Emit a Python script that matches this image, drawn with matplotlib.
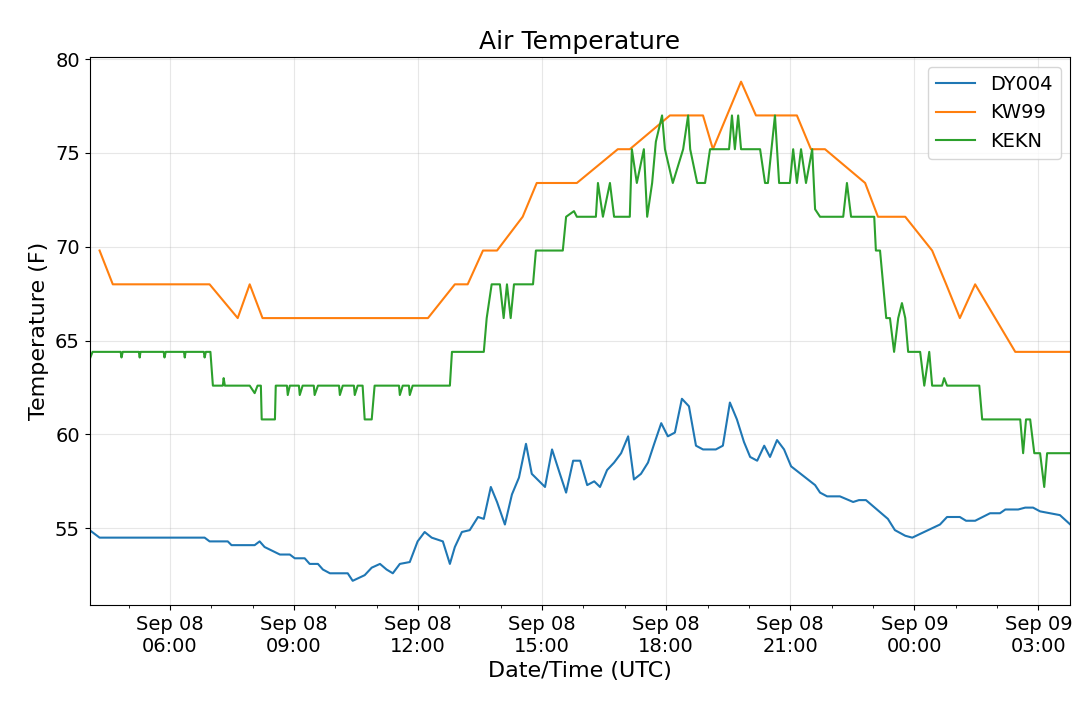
import matplotlib
matplotlib.use("Agg")
import matplotlib.pyplot as plt
import matplotlib.dates as mdates
import pandas as pd

base = pd.Timestamp("2018-09-08 00:00")

# hours after Sep 08 00:00 UTC, temperature (F)
dy004_h = [4.06, 4.30, 6.84, 6.96, 7.40, 7.49, 8.05, 8.17, 8.29, 8.66, 8.90, 9.02, 9.26, 9.38, 9.58, 9.70,
           9.87, 10.30, 10.42, 10.71, 10.88, 11.08, 11.24, 11.39, 11.56, 11.80, 11.99, 12.16, 12.33, 12.60,
           12.77, 12.89, 13.06, 13.25, 13.45, 13.59, 13.76, 13.91, 14.10, 14.27, 14.44, 14.61, 14.75, 15.07,
           15.24, 15.43, 15.58, 15.75, 15.92, 16.09, 16.26, 16.40, 16.57, 16.74, 16.91, 17.08, 17.22, 17.39,
           17.56, 17.71, 17.88, 18.04, 18.21, 18.38, 18.55, 18.72, 18.89, 19.20, 19.37, 19.54, 19.71, 19.88,
           20.03, 20.20, 20.37, 20.51, 20.68, 20.85, 21.02, 21.60, 21.72, 21.89, 22.20, 22.52, 22.66, 22.83,
           23.36, 23.53, 23.78, 23.95, 24.14, 24.62, 24.79, 25.10, 25.25, 25.47, 25.83, 26.07, 26.20, 26.51,
           26.68, 26.87, 27.04, 27.28, 27.52, 27.77]
dy004_t = [54.9, 54.5, 54.5, 54.3, 54.3, 54.1, 54.1, 54.3, 54.0, 53.6, 53.6, 53.4, 53.4, 53.1, 53.1, 52.8,
           52.6, 52.6, 52.2, 52.5, 52.9, 53.1, 52.8, 52.6, 53.1, 53.2, 54.3, 54.8, 54.5, 54.3,
           53.1, 54.0, 54.8, 54.9, 55.6, 55.5, 57.2, 56.4, 55.2, 56.8, 57.7, 59.5, 57.9, 57.2,
           59.2, 57.9, 56.9, 58.6, 58.6, 57.3, 57.5, 57.2, 58.1, 58.5, 59.0, 59.9, 57.6, 57.9,
           58.5, 59.5, 60.6, 59.9, 60.1, 61.9, 61.5, 59.4, 59.2, 59.2, 59.4, 61.7, 60.8, 59.6,
           58.8, 58.6, 59.4, 58.8, 59.7, 59.2, 58.3, 57.3, 56.9, 56.7, 56.7, 56.4, 56.5, 56.5,
           55.5, 54.9, 54.6, 54.5, 54.7, 55.2, 55.6, 55.6, 55.4, 55.4, 55.8, 55.8, 56.0, 56.0,
           56.1, 56.1, 55.9, 55.8, 55.7, 55.2]

kw99_h = [4.30, 4.62, 6.96, 7.64, 7.93, 8.24, 12.24, 12.89, 13.20, 13.57, 13.91, 14.53, 14.87, 15.84,
          16.83, 17.12, 18.09, 18.89, 19.13, 19.81, 20.17, 21.16, 21.50, 21.84, 22.81, 23.12, 23.78,
          24.43, 24.77, 25.10, 25.47, 26.44, 27.77]
kw99_t = [69.8, 68.0, 68.0, 66.2, 68.0, 66.2, 66.2, 68.0, 68.0, 69.8, 69.8, 71.6, 73.4, 73.4,
          75.2, 75.2, 77.0, 77.0, 75.2, 78.8, 77.0, 77.0, 75.2, 75.2, 73.4, 71.6, 71.6,
          69.8, 68.0, 66.2, 68.0, 64.4, 64.4]

kekn_h = [4.06, 4.13, 4.81, 4.83, 4.86, 5.25, 5.27, 5.29, 5.85, 5.87, 5.90, 6.34, 6.36, 6.38, 6.82, 6.84,
          6.87, 6.98, 7.04, 7.28, 7.30, 7.33, 7.93,
          8.05, 8.12, 8.20, 8.22, 8.49, 8.54, 8.56, 8.83, 8.85, 8.90, 9.12, 9.14, 9.21, 9.48, 9.50, 9.58,
          10.09, 10.11, 10.18, 10.45, 10.47, 10.54, 10.66,
          10.71, 10.88, 10.95, 11.32, 11.54, 11.56, 11.63, 11.78, 11.80, 11.87, 12.77, 12.82, 13.59, 13.66,
          13.78, 13.98,
          14.07, 14.15, 14.24, 14.32, 14.78, 14.85, 15.50, 15.58, 15.77, 15.84, 16.30, 16.35, 16.47, 16.64,
          16.74, 17.12, 17.17, 17.29, 17.46, 17.54, 17.66, 17.75, 17.90, 17.97, 18.16, 18.41, 18.53, 18.58,
          18.75, 18.94, 19.06, 19.52, 19.59, 19.66, 19.74, 19.81, 20.27, 20.39, 20.46, 20.63, 20.73, 20.99,
          21.07, 21.16, 21.26, 21.38, 21.53, 21.60, 21.72, 22.28, 22.37, 22.47, 23.03, 23.07, 23.17, 23.32,
          23.41, 23.51, 23.61, 23.70, 23.78, 23.85, 24.14, 24.24, 24.36, 24.43, 24.67, 24.72, 24.79, 25.57,
          25.64, 26.56, 26.63, 26.70, 26.80, 26.90, 27.04, 27.14, 27.21, 27.77]
kekn_t = [64.0, 64.4, 64.4, 64.1, 64.4, 64.4, 64.1, 64.4, 64.4, 64.1, 64.4, 64.4, 64.1, 64.4, 64.4, 64.1,
          64.4, 64.4, 62.6, 62.6, 63.0, 62.6, 62.6,
          62.2, 62.6, 62.6, 60.8, 60.8, 60.8, 62.6, 62.6, 62.1, 62.6, 62.6, 62.1, 62.6, 62.6, 62.1, 62.6,
          62.6, 62.1, 62.6, 62.6, 62.1, 62.6, 62.6,
          60.8, 60.8, 62.6, 62.6, 62.6, 62.1, 62.6, 62.6, 62.1, 62.6, 62.6, 64.4, 64.4, 66.2,
          68.0, 68.0,
          66.2, 68.0, 66.2, 68.0, 68.0, 69.8, 69.8, 71.6, 71.9, 71.6, 71.6, 73.4, 71.6, 73.4,
          71.6, 71.6, 75.2, 73.4, 75.2, 71.6, 73.4, 75.6, 77.0, 75.2, 73.4, 75.2, 77.0, 75.2,
          73.4, 73.4, 75.2, 75.2, 77.0, 75.2, 77.0, 75.2, 75.2, 73.4, 73.4, 77.0, 73.4, 73.4,
          75.2, 73.4, 75.2, 73.4, 75.2, 72.0, 71.6, 71.6, 73.4, 71.6, 71.6, 69.8, 69.8, 66.2,
          66.2, 64.4, 66.2, 67.0, 66.2, 64.4, 64.4, 62.6, 64.4, 62.6, 62.6, 63.0, 62.6, 62.6,
          60.8, 60.8, 59.0, 60.8, 60.8, 59.0, 59.0, 57.2, 59.0, 59.0]


def to_time(hours):
    return [base + pd.Timedelta(hours=h) for h in hours]


fig = plt.figure(figsize=(10.8, 7.07), dpi=100)
ax = fig.add_axes([0.083, 0.144, 0.908, 0.775])

ax.plot(to_time(dy004_h), dy004_t, color="#1f77b4", lw=1.5, label="DY004")
ax.plot(to_time(kw99_h), kw99_t, color="#ff7f0e", lw=1.5, label="KW99")
ax.plot(to_time(kekn_h), kekn_t, color="#2ca02c", lw=1.5, label="KEKN")

ax.set_xlim(base + pd.Timedelta(hours=4.06), base + pd.Timedelta(hours=27.77))
ax.set_ylim(50.9, 80.1)
ax.set_yticks([55, 60, 65, 70, 75, 80])
ax.xaxis.set_major_locator(mdates.HourLocator(byhour=[0, 3, 6, 9, 12, 15, 18, 21]))
ax.xaxis.set_minor_locator(mdates.HourLocator())
ax.xaxis.set_major_formatter(mdates.DateFormatter("%b %d\n%H:%M"))
ax.tick_params(labelsize=14)
ax.grid(True, alpha=0.3)

ax.set_title("Air Temperature", fontsize=18)
ax.set_xlabel("Date/Time (UTC)", fontsize=16)
ax.set_ylabel("Temperature (F)", fontsize=16)
ax.legend(fontsize=14, loc="upper right")

fig.savefig("out.png", dpi=100)
